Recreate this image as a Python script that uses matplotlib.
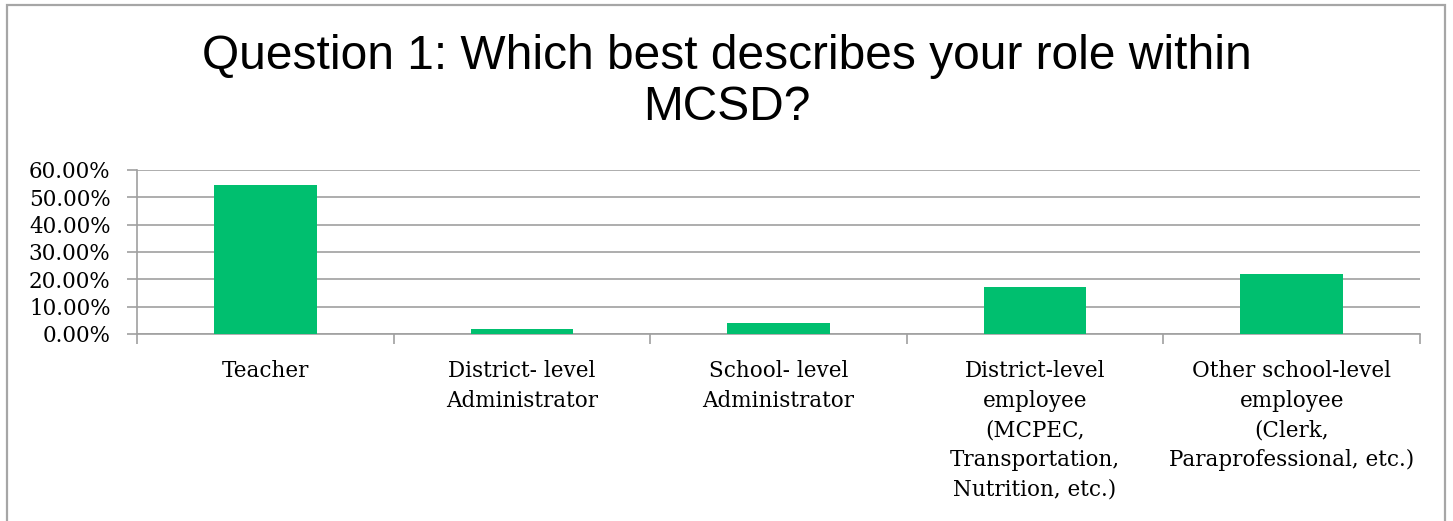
import numpy as np
import matplotlib
matplotlib.use("Agg")
import matplotlib.pyplot as plt
from matplotlib.patches import Rectangle
from matplotlib.ticker import FuncFormatter

categories = ["Teacher",
              "District- level\nAdministrator",
              "School- level\nAdministrator",
              "District-level\nemployee\n(MCPEC,\nTransportation,\nNutrition, etc.)",
              "Other school-level\nemployee\n(Clerk,\nParaprofessional, etc.)"]
values = [54.6, 1.7, 4.1, 17.1, 21.9]
yticks = [0, 10, 20, 30, 40, 50, 60]

bar_color = "#00BF6F"
grid_color = "#A0A0A0"
serif = "DejaVu Serif"

fig = plt.figure(figsize=(14.53, 5.21), dpi=100)
ax = fig.add_axes([137 / 1453, 1 - 334 / 521, (1420 - 137) / 1453, (334 - 170) / 521])

x = np.arange(len(categories))
ax.bar(x, values, width=0.4, color=bar_color, zorder=3)

ax.set_xlim(-0.5, len(categories) - 0.5)
ax.set_ylim(0, 60)
ax.set_yticks(yticks)
ax.yaxis.set_major_formatter(FuncFormatter(lambda v, p: "{0:.2f}%".format(v)))
ax.grid(axis="y", color=grid_color, lw=1.2, zorder=0)

# ticks between categories, labels centred on the bars
ax.set_xticks(np.arange(len(categories) + 1) - 0.5)
ax.set_xticklabels([])
ax.set_xticks(x, minor=True)
ax.set_xticklabels(categories, minor=True, fontsize=15.5, family=serif, va="top",
                   linespacing=1.45)
ax.tick_params(axis="x", which="minor", length=0, pad=19)
ax.tick_params(axis="x", which="major", length=7, color=grid_color, width=1.2)
ax.tick_params(axis="y", length=7, color=grid_color, width=1.2, pad=12)
for lab in ax.get_yticklabels():
    lab.set_fontsize(15.5)
    lab.set_family(serif)

for side in ["top", "right"]:
    ax.spines[side].set_visible(False)
for side in ["left", "bottom"]:
    ax.spines[side].set_color(grid_color)
    ax.spines[side].set_linewidth(1.2)

fig.text(0.5, 1 - 34 / 521, "Question 1: Which best describes your role within\nMCSD?",
         ha="center", va="top", fontsize=34.5, family="Liberation Sans", linespacing=1.17)

# grey frame round the chart
fig.patches.append(Rectangle((6.5 / 1453, -0.1), (1445 - 6.5) / 1453, 1.1 - 5 / 521,
                             transform=fig.transFigure, fill=False,
                             edgecolor="#A6A6A6", lw=1.6, clip_on=False))

fig.savefig("out.png", dpi=100)
